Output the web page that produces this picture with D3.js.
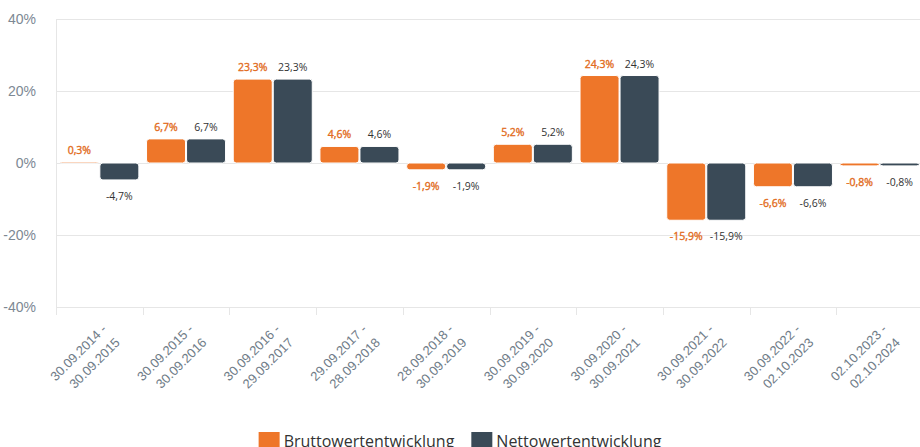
<!DOCTYPE html>
<html>
<head>
<meta charset="utf-8">
<script src="https://cdn.jsdelivr.net/npm/d3@7"></script>
<style>
  body { margin: 0; background: #fff; }
  svg { display: block; }
  .grid line { stroke: #e6e6e6; }
  .ytick { font-family: "Liberation Sans Narrow", "Liberation Sans", sans-serif; font-size: 14px; fill: #7d8893; }
  .xtick { font-family: "Liberation Sans Narrow", "Liberation Sans", sans-serif; font-size: 13px; fill: #6f7c88; }
  .val { font-family: "Open Sans", sans-serif; font-size: 10.5px; }
  .legend text { font-family: "Open Sans", sans-serif; font-size: 16px; fill: #333; }
</style>
</head>
<body>
<svg></svg>
<script>
// data
const periods = [
  "30.09.2014 - 30.09.2015",
  "30.09.2015 - 30.09.2016",
  "30.09.2016 - 29.09.2017",
  "29.09.2017 - 28.09.2018",
  "28.09.2018 - 30.09.2019",
  "30.09.2019 - 30.09.2020",
  "30.09.2020 - 30.09.2021",
  "30.09.2021 - 30.09.2022",
  "30.09.2022 - 02.10.2023",
  "02.10.2023 - 02.10.2024"
];
const brutto = [0.3, 6.7, 23.3, 4.6, -1.9, 5.2, 24.3, -15.9, -6.6, -0.8];
const netto = [-4.7, 6.7, 23.3, 4.6, -1.9, 5.2, 24.3, -15.9, -6.6, -0.8];
const seriesNames = ["Bruttowertentwicklung", "Nettowertentwicklung"];
const seriesColors = ["#ee7629", "#3a4a57"];
const labelColors = ["#e26c22", "#333333"];
const yTicks = [-40, -20, 0, 20, 40];

window.onload = () => {
  let width = 920, height = 447;
  let svg = d3.select("svg").attr("width", width).attr("height", height);

  let left = 56, right = 923, top = 19, bottom = 307;

  let y = d3.scaleLinear().domain([-40, 40]).range([bottom, top]);
  let x = d3.scaleBand().domain(periods).range([left, right]);
  let xs = d3.scaleBand().domain(seriesNames).range([0, x.bandwidth()])
    .paddingInner(0.025).paddingOuter(0.096);

  let fmt = v => d3.format(".1f")(v).replace(".", ",").replace("−", "-") + "%";

  // grid
  let grid = svg.append("g").attr("class", "grid");
  grid.selectAll("line.h").data(yTicks).enter().append("line")
    .attr("x1", left).attr("x2", width)
    .attr("y1", d => Math.round(y(d)) + 0.5).attr("y2", d => Math.round(y(d)) + 0.5);
  grid.append("line")
    .attr("x1", left + 0.5).attr("x2", left + 0.5).attr("y1", top).attr("y2", bottom);
  grid.selectAll("line.t").data(periods).enter().append("line")
    .attr("x1", d => Math.round(x(d)) + 0.5).attr("x2", d => Math.round(x(d)) + 0.5)
    .attr("y1", bottom).attr("y2", bottom + 8);

  // y labels
  svg.append("g").selectAll("text").data(yTicks).enter().append("text")
    .attr("class", "ytick")
    .attr("x", 36).attr("y", d => y(d) + 5)
    .attr("text-anchor", "end")
    .text(d => d + "%");

  // bars
  let rows = periods.map((p, i) => ({ p, vals: [brutto[i], netto[i]] }));
  let groups = svg.append("g").selectAll("g").data(rows).enter().append("g")
    .attr("transform", d => "translate(" + x(d.p) + ",0)");

  groups.selectAll("rect").data(d => d.vals.map((v, k) => ({ v, k }))).enter().append("rect")
    .attr("x", d => xs(seriesNames[d.k]))
    .attr("width", xs.bandwidth())
    .attr("y", d => y(Math.max(0, d.v)))
    .attr("height", d => Math.abs(y(d.v) - y(0)))
    .attr("rx", 3)
    .attr("fill", d => seriesColors[d.k])
    .attr("stroke", "#fff").attr("stroke-width", 1);

  groups.selectAll("text").data(d => d.vals.map((v, k) => ({ v, k }))).enter().append("text")
    .attr("class", "val")
    .attr("x", d => xs(seriesNames[d.k]) + xs.bandwidth() / 2)
    .attr("y", d => d.v >= 0 ? y(d.v) - 8 : y(d.v) + 20)
    .attr("text-anchor", "middle")
    .attr("fill", d => labelColors[d.k])
    .attr("stroke", d => d.k === 0 ? labelColors[0] : "none")
    .attr("stroke-width", 0.35)
    .text(d => fmt(d.v));

  // x labels
  let xl = svg.append("g").selectAll("text").data(periods).enter().append("text")
    .attr("class", "xtick")
    .attr("text-anchor", "end")
    .attr("transform", d => "translate(" + (x(d) + x.bandwidth() / 2 + 8) + ",330) rotate(-45)");
  xl.append("tspan").attr("x", 0).attr("dy", 0).text(d => d.split(" - ")[0] + " -");
  xl.append("tspan").attr("x", 0).attr("dy", "1.45em").text(d => d.split(" - ")[1]);

  // legend
  let legend = svg.append("g").attr("class", "legend");
  let items = legend.selectAll("g").data(seriesNames).enter().append("g");
  items.append("rect").attr("width", 21).attr("height", 21).attr("y", 432)
    .attr("fill", (d, i) => seriesColors[i]);
  items.append("text").attr("x", 25).attr("y", 447).text(d => d);
  let pos = 0, offs = [];
  items.each(function () {
    offs.push(pos);
    pos += 25 + d3.select(this).select("text").node().getComputedTextLength() + 17;
  });
  let total = pos - 17;
  let start = 460 - total / 2;
  items.attr("transform", (d, i) => "translate(" + (start + offs[i]) + ",0)");
};
</script>
</body>
</html>
